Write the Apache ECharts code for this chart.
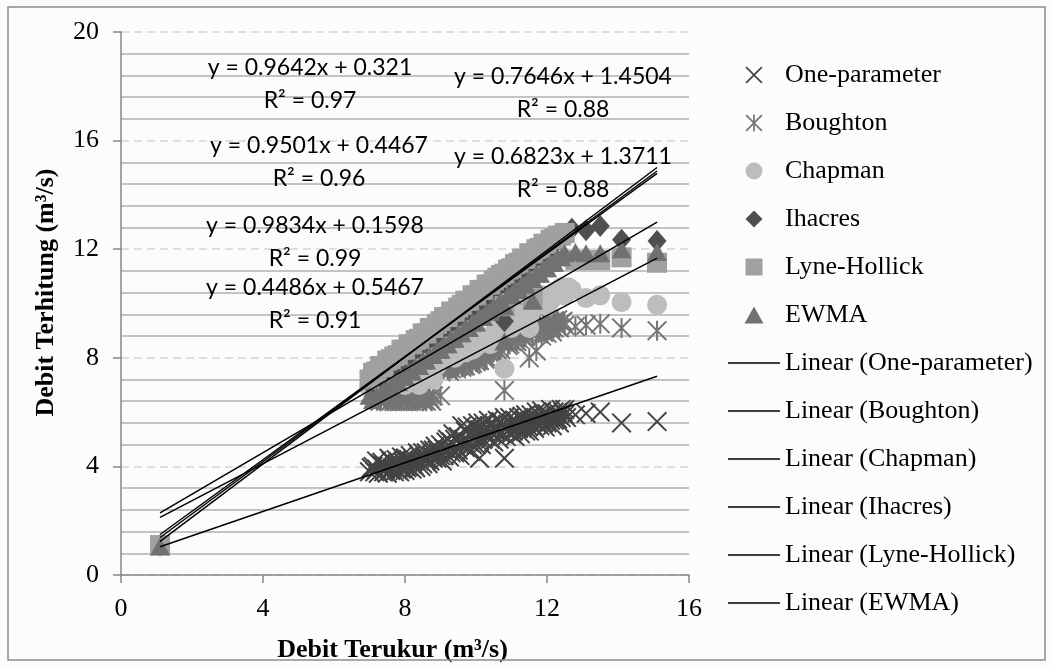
<!DOCTYPE html>
<html>
<head>
<meta charset="utf-8">
<script src="https://cdn.jsdelivr.net/npm/echarts@6/dist/echarts.min.js"></script>
<style>
  html, body { margin: 0; padding: 0; background: #fcfcfa; }
  #chart { width: 1052px; height: 668px; }
</style>
</head>
<body>
<div id="chart"></div>
<script>
// Measured discharge (x) against computed discharge (y), m3/s, per baseflow model
const seriesNames = ['One-parameter', 'Boughton', 'Chapman', 'Ihacres', 'Lyne-Hollick', 'EWMA'];

const onePar = [
  [1.1, 1.1],
  [7.0, 3.8], [7.05, 3.95], [7.1, 4.0], [7.15, 3.8], [7.2, 3.9], [7.2, 4.2], [7.25, 3.75], [7.3, 4.1],
  [7.35, 4.15], [7.4, 3.8], [7.4, 4.05], [7.45, 3.9], [7.5, 4.0], [7.5, 3.75], [7.55, 4.3], [7.6, 4.2],
  [7.6, 3.85], [7.65, 3.95], [7.7, 3.8], [7.7, 4.1], [7.75, 4.25], [7.8, 4.1], [7.8, 3.85], [7.85, 3.8],
  [7.9, 3.9], [7.9, 4.35], [7.95, 4.15], [8.0, 4.3], [8.0, 3.85], [8.05, 3.95], [8.1, 4.0], [8.1, 4.25],
  [8.15, 4.4], [8.2, 3.9], [8.2, 4.2], [8.25, 4.05], [8.3, 4.2], [8.3, 3.95], [8.35, 4.5], [8.4, 4.4],
  [8.4, 4.2], [8.45, 4.0], [8.5, 4.1], [8.5, 4.5], [8.55, 4.35], [8.6, 4.5], [8.6, 4.25], [8.65, 4.1],
  [8.7, 4.2], [8.7, 4.6], [8.75, 4.4], [8.8, 4.6], [8.8, 4.3], [8.85, 4.75], [8.9, 4.3], [8.9, 4.6],
  [8.95, 4.45], [9.0, 4.8], [9.0, 4.4], [9.05, 4.2], [9.1, 4.4], [9.1, 4.65], [9.15, 4.9], [9.2, 4.6],
  [9.2, 5.0], [9.25, 4.35], [9.3, 4.9], [9.3, 4.5], [9.35, 5.2], [9.4, 4.5], [9.4, 5.0], [9.45, 4.7],
  [9.5, 5.1], [9.5, 4.6], [9.55, 4.4], [9.6, 5.5], [9.6, 4.8], [9.65, 5.0], [9.7, 4.7], [9.7, 5.3],
  [9.75, 5.45], [9.8, 5.2], [9.8, 4.9], [9.85, 4.55], [9.9, 4.8], [9.9, 5.5], [9.95, 5.1], [10.0, 5.4],
  [10.0, 4.8], [10.05, 5.6], [10.1, 4.3], [10.1, 5.0], [10.1, 5.35], [10.15, 4.8], [10.2, 5.6], [10.2, 5.0],
  [10.25, 5.3], [10.3, 5.1], [10.3, 5.45], [10.35, 5.7], [10.4, 5.5], [10.4, 5.0], [10.45, 5.2], [10.5, 4.9],
  [10.5, 5.35], [10.55, 5.5], [10.6, 5.7], [10.6, 5.3], [10.65, 5.0], [10.7, 5.2], [10.7, 5.65], [10.75, 5.5],
  [10.8, 4.3], [10.8, 5.8], [10.8, 5.4], [10.85, 5.1], [10.9, 5.3], [10.9, 5.55], [10.95, 5.8], [11.0, 5.6],
  [11.0, 5.2], [11.05, 5.3], [11.1, 5.1], [11.1, 5.7], [11.15, 5.55], [11.2, 5.8], [11.2, 5.4], [11.25, 5.2],
  [11.3, 5.4], [11.3, 5.85], [11.35, 5.7], [11.4, 5.9], [11.4, 5.3], [11.45, 5.5], [11.5, 5.3], [11.5, 5.65],
  [11.55, 5.9], [11.6, 5.7], [11.6, 5.5], [11.65, 5.4], [11.7, 6.0], [11.7, 5.6], [11.75, 5.75], [11.8, 5.5],
  [11.8, 5.85], [11.85, 6.05], [11.9, 5.9], [11.9, 5.6], [11.95, 5.45], [12.0, 5.6], [12.0, 5.95], [12.05, 5.8],
  [12.1, 6.1], [12.1, 5.7], [12.15, 5.5], [12.2, 5.7], [12.2, 6.0], [12.25, 5.9], [12.3, 6.0], [12.3, 5.75],
  [12.35, 5.6], [12.4, 5.8], [12.4, 6.1], [12.45, 6.0], [12.5, 6.1], [12.5, 5.9], [12.55, 5.8],
  [12.8, 5.9], [13.1, 5.95], [13.5, 6.0], [14.1, 5.6], [15.1, 5.65]
];

const boughton = [
  [1.1, 1.1],
  [7.2, 6.6], [7.25, 6.45], [7.3, 6.4], [7.3, 6.55], [7.35, 6.7], [7.4, 6.8], [7.45, 6.4], [7.5, 6.5],
  [7.5, 6.65], [7.55, 6.75], [7.6, 6.4], [7.65, 6.5], [7.7, 6.7], [7.7, 6.45], [7.75, 6.4], [7.8, 6.5],
  [7.85, 6.7], [7.9, 6.4], [7.9, 6.6], [7.95, 6.55], [8.0, 6.6], [8.05, 6.4], [8.1, 6.5], [8.1, 6.45],
  [8.15, 6.75], [8.2, 6.4], [8.25, 6.5], [8.3, 6.7], [8.3, 6.55], [8.35, 6.4], [8.4, 6.5], [8.45, 6.7],
  [8.5, 6.6], [8.5, 6.4], [8.55, 6.45], [8.6, 6.4], [8.65, 6.6], [8.7, 6.5], [8.7, 6.65], [8.75, 6.4],
  [8.8, 6.6], [9.0, 6.6], [9.1, 7.6], [9.1, 7.9], [9.15, 7.7], [9.2, 7.8], [9.2, 7.55], [9.25, 7.5],
  [9.3, 7.6], [9.3, 8.0], [9.35, 7.85], [9.4, 7.9], [9.4, 7.65], [9.45, 7.6], [9.5, 7.7], [9.5, 8.05],
  [9.55, 8.0], [9.6, 8.0], [9.6, 7.65], [9.65, 7.7], [9.7, 7.7], [9.7, 8.0], [9.75, 8.15], [9.8, 8.1],
  [9.8, 7.8], [9.85, 7.75], [9.9, 7.8], [9.9, 8.1], [9.95, 8.3], [10.0, 8.2], [10.0, 7.85], [10.05, 7.9],
  [10.1, 7.9], [10.1, 8.3], [10.15, 8.2], [10.2, 8.4], [10.2, 8.05], [10.25, 7.95], [10.3, 8.0], [10.3, 8.35],
  [10.35, 8.45], [10.4, 8.5], [10.4, 8.15], [10.45, 8.1], [10.5, 8.2], [10.5, 8.5], [10.55, 8.55], [10.6, 8.7],
  [10.6, 8.3], [10.65, 8.2], [10.7, 8.3], [10.7, 8.6], [10.75, 8.75], [10.8, 6.8], [10.9, 8.8], [10.9, 8.45],
  [10.95, 8.5], [11.0, 8.6], [11.0, 8.85], [11.05, 9.05], [11.1, 9.0], [11.1, 8.65], [11.15, 8.6], [11.2, 8.7],
  [11.2, 9.0], [11.25, 9.15], [11.3, 9.1], [11.3, 8.8], [11.35, 8.75], [11.4, 8.8], [11.4, 9.15], [11.45, 9.05],
  [11.5, 9.2], [11.5, 8.0], [11.6, 8.9], [11.6, 9.1], [11.7, 8.25], [11.7, 8.95], [11.75, 9.2], [11.8, 9.0],
  [11.8, 9.25], [11.85, 8.8], [11.9, 9.3], [11.9, 8.95], [11.95, 9.1], [12.0, 8.9], [12.0, 9.2], [12.05, 9.35],
  [12.1, 9.3], [12.1, 9.05], [12.15, 8.95], [12.2, 9.1], [12.2, 9.35], [12.25, 9.25], [12.3, 9.4], [12.3, 9.15],
  [12.35, 9.1], [12.4, 9.3], [12.45, 9.35], [12.5, 9.2],
  [12.8, 9.15], [13.1, 9.2], [13.5, 9.25], [14.1, 9.1], [15.1, 9.0]
];

const chapman = [
  [1.1, 1.1],
  [7.0, 6.9], [7.1, 7.0], [7.2, 7.1], [7.3, 7.3], [7.4, 6.8], [7.45, 7.0], [7.5, 7.3], [7.6, 6.9],
  [7.7, 7.4], [7.8, 7.2], [7.9, 7.1], [8.0, 7.0], [8.1, 7.4], [8.2, 7.3], [8.3, 7.1], [8.4, 7.0],
  [8.5, 7.3], [8.6, 7.6], [8.7, 7.5], [8.8, 7.2], [8.9, 7.7], [9.0, 7.9], [9.1, 8.0], [9.2, 8.2],
  [9.3, 8.3], [9.4, 8.0], [9.5, 8.4], [9.6, 8.5], [9.7, 8.2], [9.8, 8.6], [9.9, 8.3], [10.0, 8.4],
  [10.1, 8.8], [10.2, 8.7], [10.3, 8.6], [10.4, 8.5], [10.5, 8.9], [10.6, 9.2], [10.7, 9.0], [10.8, 7.6],
  [10.9, 9.4], [11.0, 9.1], [11.1, 9.3], [11.2, 9.6], [11.3, 9.7], [11.4, 9.9], [11.5, 9.5], [11.5, 9.1],
  [11.6, 9.8], [11.7, 10.1], [11.8, 10.2], [11.9, 10.3], [12.0, 9.9], [12.1, 10.1], [12.2, 10.4], [12.3, 10.5],
  [12.4, 10.6], [12.5, 10.3], [12.6, 10.6], [12.7, 10.5],
  [13.1, 10.2], [13.5, 10.3], [14.1, 10.05], [15.1, 9.95]
];

const ihacres = [
  [1.1, 1.1],
  [7.0, 7.05], [7.1, 7.0], [7.2, 7.2], [7.3, 7.25], [7.4, 7.35], [7.5, 7.5], [7.6, 7.55], [7.7, 7.75],
  [7.8, 7.75], [7.9, 7.85], [8.0, 8.05], [8.1, 8.05], [8.2, 8.15], [8.3, 8.3], [8.4, 8.35], [8.5, 8.5],
  [8.6, 8.55], [8.7, 8.7], [8.8, 8.75], [8.9, 8.85], [9.0, 9.0], [9.1, 9.1], [9.2, 9.15], [9.3, 9.3],
  [9.4, 9.35], [9.5, 9.5], [9.6, 9.55], [9.7, 9.7], [9.8, 9.75], [9.9, 9.85], [10.0, 10.0], [10.1, 10.05],
  [10.2, 10.2], [10.3, 10.25], [10.4, 10.35], [10.5, 10.5], [10.6, 10.55], [10.7, 10.7], [10.8, 9.35], [10.8, 10.75],
  [10.9, 10.85], [11.0, 11.0], [11.1, 11.05], [11.2, 11.2], [11.3, 11.25], [11.4, 11.35], [11.5, 11.5], [11.6, 11.55],
  [11.7, 11.7], [11.8, 11.75], [11.9, 11.85], [12.0, 12.0], [12.1, 12.05], [12.2, 12.15], [12.3, 12.3], [12.4, 12.4],
  [12.5, 12.5], [12.6, 12.6], [12.7, 12.75],
  [13.1, 12.7], [13.5, 12.85], [14.1, 12.35], [15.1, 12.3]
];

const lyneHollick = [
  [1.1, 1.1],
  [7.0, 7.2], [7.1, 7.45], [7.2, 7.5], [7.3, 7.7], [7.4, 7.65], [7.5, 7.9], [7.6, 7.95], [7.7, 8.05],
  [7.8, 8.1], [7.9, 8.3], [8.0, 8.3], [8.1, 8.5], [8.2, 8.5], [8.3, 8.65], [8.4, 8.7], [8.5, 8.9],
  [8.6, 8.9], [8.7, 9.1], [8.8, 9.1], [8.9, 9.25], [9.0, 9.35], [9.1, 9.5], [9.2, 9.5], [9.3, 9.7],
  [9.4, 9.7], [9.5, 9.85], [9.6, 9.95], [9.7, 10.1], [9.8, 10.1], [9.9, 10.3], [10.0, 10.3], [10.1, 10.5],
  [10.2, 10.5], [10.3, 10.7], [10.4, 10.7], [10.5, 10.85], [10.6, 10.95], [10.7, 11.05], [10.8, 9.9], [10.8, 11.1],
  [10.9, 11.25], [11.0, 11.3], [11.1, 11.45], [11.2, 11.5], [11.3, 11.65], [11.4, 11.65], [11.5, 11.85], [11.6, 10.2],
  [11.6, 11.85], [11.7, 12.0], [11.8, 12.05], [11.9, 12.2], [12.0, 12.2], [12.1, 12.35], [12.2, 12.4], [12.3, 12.5],
  [12.4, 12.5], [12.5, 12.6],
  [12.8, 11.6], [13.1, 11.6], [13.5, 11.6], [14.1, 11.7], [15.1, 11.5]
];

const ewma = [
  [1.1, 1.05],
  [7.0, 6.6], [7.1, 6.45], [7.2, 6.6], [7.3, 6.6], [7.4, 6.8], [7.5, 6.85], [7.6, 6.9], [7.7, 7.1],
  [7.8, 7.1], [7.9, 7.3], [8.0, 7.3], [8.1, 7.5], [8.2, 7.5], [8.3, 7.7], [8.4, 7.7], [8.5, 7.9],
  [8.6, 7.9], [8.7, 8.1], [8.8, 8.1], [8.9, 8.3], [9.0, 8.3], [9.1, 8.5], [9.2, 8.5], [9.3, 8.7],
  [9.4, 8.7], [9.5, 8.9], [9.6, 8.9], [9.7, 9.1], [9.8, 9.1], [9.9, 9.3], [10.0, 9.3], [10.1, 9.5],
  [10.2, 9.5], [10.3, 9.7], [10.4, 9.7], [10.5, 9.9], [10.6, 9.9], [10.7, 10.1], [10.8, 8.6], [10.8, 9.9],
  [10.9, 10.3], [11.0, 10.3], [11.1, 10.5], [11.2, 10.5], [11.3, 10.7], [11.4, 10.7], [11.5, 10.9], [11.6, 10.1],
  [11.6, 10.9], [11.7, 11.1], [11.8, 11.1], [11.9, 11.3], [12.0, 11.3], [12.1, 11.5], [12.2, 11.5], [12.3, 11.7],
  [12.4, 11.7], [12.5, 11.85],
  [12.8, 11.9], [13.1, 11.85], [13.5, 11.85], [14.1, 12.0], [15.1, 11.9]
];

// Linear trendline coefficients (y = slope * x + intercept) and R², in seriesNames order
const slopes = [0.4486, 0.6823, 0.7646, 0.9642, 0.9834, 0.9501];
const intercepts = [0.5467, 1.3711, 1.4504, 0.321, 0.1598, 0.4467];
const rSquared = [0.91, 0.88, 0.88, 0.97, 0.99, 0.96];

const seriesData = [onePar, boughton, chapman, ihacres, lyneHollick, ewma];

// Marker shapes: plot symbol, legend icon (aspect-preserving paths), size, colour
const crossPath = 'path://M0,7L7,0L50,43L93,0L100,7L57,50L100,93L93,100L50,57L7,100L0,93L43,50Z';
const starPath = crossPath + 'M45,0L55,0L55,100L45,100Z';
const markerStyles = [
  { symbol: crossPath, icon: crossPath, size: 20, color: '#444444' },
  { symbol: starPath, icon: starPath, size: 20, color: '#757575' },
  { symbol: 'circle', icon: 'path://M50,0A50,50,0,1,1,49.99,0Z', size: 20, color: '#bdbdbd' },
  { symbol: 'diamond', icon: 'path://M50,0L100,50L50,100L0,50Z', size: [19, 22], color: '#4f4f4f' },
  { symbol: 'rect', icon: 'path://M0,0L100,0L100,100L0,100Z', size: 20, color: '#a0a0a0' },
  { symbol: 'triangle', icon: 'path://M50,0L100,90L0,90Z', size: [20, 18], color: '#717171' }
];
const trendIcon = 'path://M0,0L100,0L100,3L0,3Z';

// Where each trendline's equation is written (pixel centre of the first text row)
const equationPlacement = [
  { x: 315, y: 288 },
  { x: 563, y: 157 },
  { x: 563, y: 77 },
  { x: 310, y: 68 },
  { x: 315, y: 226 },
  { x: 319, y: 146 }
];

const serif = 'Liberation Serif';

const scatterSeries = seriesNames.map((name, i) => ({
  name: name,
  type: 'scatter',
  data: seriesData[i],
  symbol: markerStyles[i].symbol,
  symbolSize: markerStyles[i].size,
  itemStyle: { color: markerStyles[i].color, opacity: 1 },
  emphasis: { disabled: true },
  z: 2 + i
}));

const trendSeries = seriesNames.map((name, i) => {
  const xs = seriesData[i].map(p => p[0]);
  const x0 = Math.min(...xs);
  const x1 = Math.max(...xs);
  return {
    name: 'Linear (' + name + ')',
    type: 'line',
    data: [[x0, slopes[i] * x0 + intercepts[i]], [x1, slopes[i] * x1 + intercepts[i]]],
    symbol: 'none',
    lineStyle: { color: '#000', width: 1.5 },
    itemStyle: { color: '#000' },
    emphasis: { disabled: true },
    silent: true,
    z: 20
  };
});

const equationTexts = [];
seriesNames.forEach((name, i) => {
  const p = equationPlacement[i];
  equationTexts.push({
    type: 'text', x: p.x, y: p.y, z: 50, silent: true,
    style: { text: 'y = ' + slopes[i] + 'x + ' + intercepts[i], font: '23px Lato', fill: '#000', align: 'center', verticalAlign: 'middle' }
  });
  equationTexts.push({
    type: 'text', x: p.x, y: p.y + 33, z: 50, silent: true,
    style: { text: 'R² = ' + rSquared[i], font: '23px Lato', fill: '#000', align: 'center', verticalAlign: 'middle' }
  });
});

const legendItems = seriesNames.map((n, i) => ({ name: n, icon: markerStyles[i].icon }))
  .concat(seriesNames.map(n => ({ name: 'Linear (' + n + ')', icon: trendIcon })));

const chart = echarts.init(document.getElementById('chart'), null, { renderer: 'canvas' });
chart.setOption({
  animation: false,
  backgroundColor: '#fcfcfa',
  grid: { left: 121, right: 363, top: 32, bottom: 93, outerBoundsMode: 'none' },
  xAxis: {
    type: 'value', min: 0, max: 16, interval: 4,
    name: 'Debit Terukur (m³/s)', nameLocation: 'middle', nameGap: 62,
    nameTextStyle: { fontFamily: serif, fontWeight: 'bold', fontSize: 26, color: '#000', padding: [0, 25, 0, 0] },
    axisLine: { show: true, lineStyle: { color: '#878787', width: 1.5 } },
    axisTick: { show: true, length: 8, lineStyle: { color: '#878787', width: 1.5 } },
    axisLabel: { margin: 21, fontFamily: serif, fontSize: 26, color: '#000' },
    splitLine: { show: false }
  },
  yAxis: {
    type: 'value', min: 0, max: 20, interval: 4,
    name: 'Debit Terhitung (m³/s)', nameLocation: 'middle', nameGap: 62,
    nameTextStyle: { fontFamily: serif, fontWeight: 'bold', fontSize: 26, color: '#000', padding: [0, 0, 0, 22] },
    axisLine: { show: true, lineStyle: { color: '#878787', width: 1.5 } },
    axisTick: { show: true, length: 8, lineStyle: { color: '#878787', width: 1.5 } },
    axisLabel: { margin: 22, fontFamily: serif, fontSize: 26, color: '#000' },
    splitLine: { show: true, lineStyle: { color: '#d4d4d4', width: 1.5, type: [8, 5] } },
    minorTick: { show: false, splitNumber: 5 },
    minorSplitLine: { show: true, lineStyle: { color: '#b0b0b0', width: 1.5 } }
  },
  legend: {
    orient: 'vertical', left: 723, top: 55,
    itemWidth: 52, itemHeight: 17, itemGap: 18,
    selectedMode: false,
    textStyle: { fontFamily: serif, fontSize: 26, color: '#000', lineHeight: 30 },
    data: legendItems
  },
  graphic: [
    { type: 'rect', shape: { x: 8, y: 7, width: 1037, height: 653 }, style: { fill: 'none', stroke: '#8c8c8c', lineWidth: 1.5 }, z: 100, silent: true }
  ].concat(equationTexts),
  series: scatterSeries.concat(trendSeries)
});
</script>
</body>
</html>
